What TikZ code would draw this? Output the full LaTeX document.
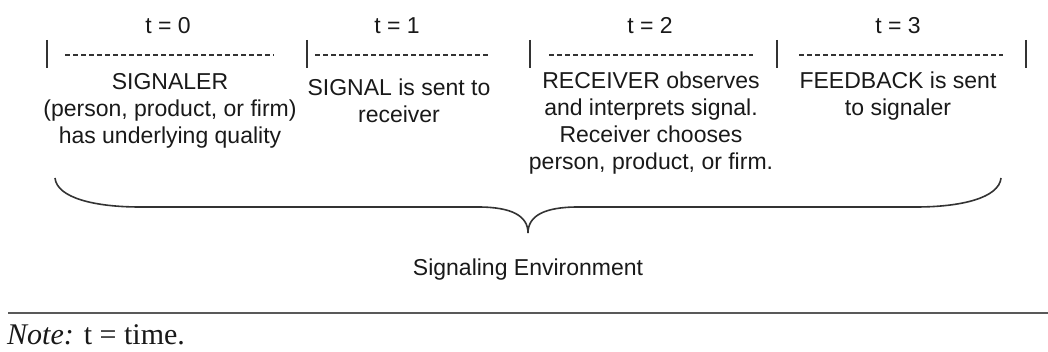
\documentclass[tikz,border=0pt]{standalone}
\usepackage{fontspec}
\setmainfont{Liberation Sans}
\newfontfamily\notefont{Liberation Serif}
\begin{document}
\begin{tikzpicture}[x=1pt,y=-1pt,
  txt/.style={font=\fontsize{23}{27}\selectfont, text=black!90, inner sep=0pt},
  lbl/.style={txt, align=center, anchor=north},
  tlbl/.style={txt, anchor=base},
  bar/.style={draw=black!80, line width=1.6pt},
  dashline/.style={draw=black!80, line width=1.6pt, dash pattern=on 5pt off 3pt},
  brace/.style={draw=black!80, line width=1.6pt},
  rule/.style={draw=black!65, line width=2pt},
]
\useasboundingbox (0,0) rectangle (1048,352);

% time labels
\node[tlbl] (t0) at (168,34) {t = 0};
\node[tlbl] (t1) at (397,34) {t = 1};
\node[tlbl] (t2) at (650,34) {t = 2};
\node[tlbl] (t3) at (898,34) {t = 3};

% separators
\draw[bar] (47,40) -- (47,68);
\draw[bar] (307,40) -- (307,68);
\draw[bar] (530,40) -- (530,68);
\draw[bar] (777,40) -- (777,68);
\draw[bar] (1026,40) -- (1026,68);

% dashed rules
\draw[dashline] (65,55) -- (274,55);
\draw[dashline] (315,55) -- (489,55);
\draw[dashline] (549,55) -- (753,55);
\draw[dashline] (799,55) -- (1003,55);

% stage texts
\node[lbl] (s0) at (170,70.1) {\strut SIGNALER\\(person, product, or firm)\\has underlying quality};
\node[lbl] (s1) at (399,76.1) {\strut SIGNAL is sent to\\receiver};
\node[lbl] (s2) at (651,69.1) {\strut RECEIVER observes\\and interprets signal.\\Receiver chooses\\person, product, or firm.};
\node[lbl] (s3) at (898,69.1) {\strut FEEDBACK is sent\\to signaler};

% brace
\draw[brace] (55,178) .. controls (57,198) and (95,207) .. (140,207)
  -- (478,207) .. controls (512,207) and (528,216) .. (528,233)
  .. controls (528,216) and (544,207) .. (578,207)
  -- (916,207) .. controls (961,207) and (999,198) .. (1001,178);

\node[tlbl] (env) at (528,276) {Signaling Environment};

% bottom rule and note
\draw[rule] (8,313) -- (1048,313);
\node[anchor=base west, inner sep=0pt, text=black!90, font=\notefont\fontsize{30}{34}\selectfont] (note) at (7,344) {\textit{Note:} t = time.};
\end{tikzpicture}
\end{document}
